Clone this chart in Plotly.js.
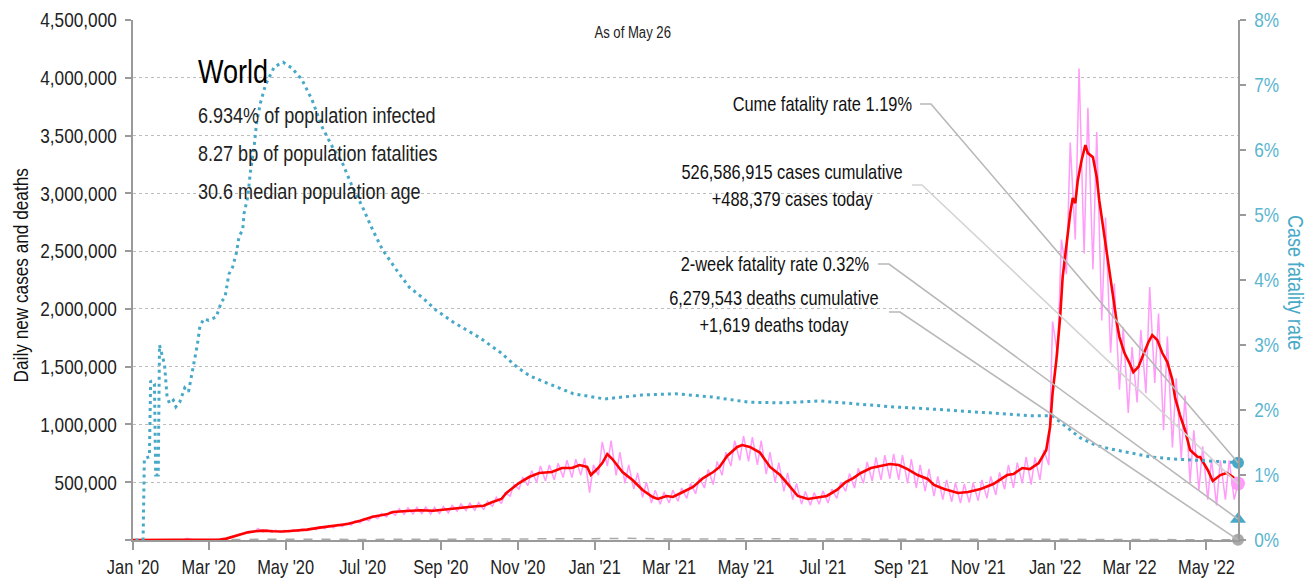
<!DOCTYPE html>
<html><head><meta charset="utf-8">
<script src="https://cdn.plot.ly/plotly-3.0.1.min.js"></script>
<style>html,body{margin:0;padding:0;background:#fff}#chart{width:1313px;height:580px}</style>
</head><body><div id="chart"></div>
<script>
// ---------- DATA ----------
const redDates = ['2020-01-01','2020-01-22','2020-02-05','2020-02-20','2020-03-01','2020-03-10','2020-03-15','2020-03-20','2020-03-26','2020-04-01','2020-04-07','2020-04-13','2020-04-21','2020-04-29','2020-05-07','2020-05-18','2020-05-28','2020-06-08','2020-06-19','2020-06-29','2020-07-09','2020-07-20','2020-07-25','2020-08-05','2020-08-16','2020-08-26','2020-09-06','2020-09-16','2020-09-27','2020-10-05','2020-10-12','2020-10-19','2020-10-23','2020-11-02','2020-11-10','2020-11-18','2020-11-28','2020-12-06','2020-12-14','2020-12-20','2020-12-26','2020-12-29','2021-01-03','2021-01-07','2021-01-11','2021-01-15','2021-01-23','2021-01-31','2021-02-08','2021-02-16','2021-02-20','2021-02-27','2021-03-04','2021-03-12','2021-03-20','2021-03-28','2021-04-05','2021-04-10','2021-04-16','2021-04-24','2021-04-28','2021-05-04','2021-05-12','2021-05-20','2021-05-28','2021-06-05','2021-06-11','2021-06-19','2021-06-27','2021-07-04','2021-07-12','2021-07-19','2021-07-25','2021-07-31','2021-08-08','2021-08-15','2021-08-23','2021-08-30','2021-09-06','2021-09-14','2021-09-22','2021-09-27','2021-10-05','2021-10-16','2021-10-24','2021-11-03','2021-11-13','2021-11-24','2021-11-29','2021-12-06','2021-12-12','2021-12-19','2021-12-25','2021-12-28','2021-12-30','2022-01-02','2022-01-05','2022-01-07','2022-01-10','2022-01-13','2022-01-15','2022-01-17','2022-01-19','2022-01-22','2022-01-25','2022-01-27','2022-01-31','2022-02-03','2022-02-05','2022-02-08','2022-02-11','2022-02-13','2022-02-16','2022-02-19','2022-02-21','2022-02-25','2022-03-01','2022-03-04','2022-03-08','2022-03-12','2022-03-16','2022-03-19','2022-03-23','2022-03-27','2022-03-31','2022-04-04','2022-04-06','2022-04-10','2022-04-14','2022-04-18','2022-04-24','2022-04-26','2022-05-02','2022-05-06','2022-05-12','2022-05-17','2022-05-22','2022-05-26'];
const redVals = [0,500,3000,2000,1500,4000,12000,28000,52000,66000,75000,81000,76000,74000,80000,90000,107000,121000,138000,167000,202000,222000,242000,251000,258000,253000,266000,283000,290000,296000,329000,355000,407000,493000,545000,580000,588000,623000,623000,649000,632000,562000,614000,666000,744000,701000,588000,519000,433000,372000,355000,381000,372000,415000,459000,536000,588000,632000,727000,805000,822000,805000,757000,632000,562000,459000,381000,355000,372000,381000,433000,502000,536000,580000,623000,640000,657000,649000,614000,562000,528000,476000,441000,407000,415000,441000,484000,562000,571000,623000,614000,666000,779000,978000,1272000,1557000,1929000,2275000,2569000,2829000,2959000,2915000,3114000,3287000,3417000,3348000,3313000,3140000,2941000,2708000,2483000,2310000,2076000,1877000,1756000,1618000,1531000,1453000,1497000,1600000,1713000,1773000,1730000,1618000,1540000,1384000,1237000,1081000,952000,779000,718000,718000,606000,510000,562000,580000,545000,502000];

// daily cases: weekly low (Monday) and high (Thursday), weeks starting 2020-01-20
const pinkFirstMonday = '2020-01-20';
const pinkLow = [100,1500,3000,2500,1500,900,1800,3500,13000,38000,57000,68000,70000,68000,66000,70000,75000,80000,90000,98000,106000,115000,128000,148000,165000,185000,200000,215000,222000,225000,228000,225000,230000,235000,250000,255000,258000,262000,290000,315000,380000,440000,470000,500000,510000,520000,540000,540000,560000,410000,
560000,640000,560000,490000,440000,370000,320000,310000,320000,335000,360000,400000,450000,480000,560000,640000,690000,680000,650000,570000,500000,420000,350000,310000,300000,310000,320000,360000,420000,450000,490000,510000,520000,530000,520000,490000,450000,420000,380000,350000,330000,320000,325000,340000,360000,390000,440000,450000,490000,480000,520000,650000,
1600000,2300000,2600000,2480000,2340000,1900000,1620000,1300000,1100000,1190000,1270000,1360000,950000,800000,700000,500000,430000,350000,300000,350000,350000];
const pinkHigh = [700,2800,3800,15000,1000,1500,2500,6500,24000,52000,74000,100000,88000,85000,84000,88000,94000,102000,116000,126000,136000,148000,165000,185000,210000,230000,245000,270000,278000,282000,285000,282000,290000,300000,312000,318000,325000,335000,370000,405000,480000,545000,600000,640000,650000,665000,690000,700000,710000,650000,
850000,860000,760000,650000,580000,500000,430000,415000,430000,450000,490000,540000,610000,680000,760000,860000,900000,890000,860000,760000,670000,580000,490000,420000,410000,425000,440000,500000,575000,620000,675000,715000,735000,745000,735000,700000,650000,615000,550000,520000,495000,485000,495000,520000,550000,585000,650000,670000,720000,715000,780000,1890000,
2600000,3440000,4080000,3740000,3530000,2790000,2220000,1840000,1670000,1820000,2190000,1960000,1760000,1400000,1250000,950000,810000,700000,690000,690000,488379];

// case fatality rate (%), right axis
const cfrDates = ['2020-01-03','2020-01-09','2020-01-10','2020-01-14','2020-01-15','2020-01-18','2020-01-19','2020-01-21','2020-01-22','2020-01-24','2020-01-26','2020-01-28','2020-01-30','2020-02-02','2020-02-04','2020-02-07','2020-02-09','2020-02-11','2020-02-14','2020-02-15','2020-02-16','2020-02-19','2020-02-20','2020-02-21','2020-02-23','2020-02-26','2020-03-01','2020-03-07','2020-03-11','2020-03-14','2020-03-17','2020-03-20','2020-03-23','2020-03-25','2020-03-28','2020-03-29','2020-04-01','2020-04-03','2020-04-06','2020-04-08','2020-04-11','2020-04-15','2020-04-22','2020-04-29','2020-05-06','2020-05-14','2020-05-22','2020-05-30','2020-06-07','2020-06-15','2020-06-23','2020-07-01','2020-07-09','2020-07-17','2020-07-28','2020-08-07','2020-08-18','2020-08-28','2020-09-11','2020-09-21','2020-10-02','2020-10-18','2020-11-01','2020-11-11','2020-11-22','2020-12-15','2021-01-09','2021-02-07','2021-03-06','2021-04-04','2021-05-03','2021-05-31','2021-06-28','2021-07-27','2021-08-24','2021-09-21','2021-10-19','2021-11-17','2021-12-15','2021-12-30','2022-01-05','2022-01-13','2022-01-21','2022-02-02','2022-02-14','2022-03-02','2022-03-17','2022-04-02','2022-04-26','2022-05-26'];
const cfrVals = [0,0,1.25,1.28,2.45,2.4,1.0,1.0,3.0,2.86,2.7,2.2,2.1,2.15,2.05,2.12,2.23,2.34,2.28,2.38,2.51,2.75,2.86,3.0,3.28,3.4,3.38,3.43,3.66,3.74,4.09,4.2,4.42,4.66,4.78,5.02,5.28,5.65,6.05,6.42,6.72,7.0,7.28,7.35,7.26,7.08,6.77,6.35,6.05,5.8,5.43,5.12,4.77,4.46,4.15,3.89,3.72,3.54,3.35,3.23,3.11,2.89,2.65,2.52,2.43,2.25,2.17,2.23,2.25,2.2,2.12,2.11,2.14,2.09,2.05,2.02,1.98,1.95,1.91,1.91,1.82,1.69,1.57,1.46,1.4,1.34,1.28,1.25,1.22,1.19];

// daily deaths (near zero on the left axis)
const deathDates = ['2020-01-22','2020-03-01','2020-03-20','2020-04-01','2020-04-15','2020-05-01','2020-06-01','2020-07-01','2020-08-01','2020-09-01','2020-10-01','2020-11-01','2020-12-01','2021-01-01','2021-01-25','2021-03-01','2021-04-01','2021-05-01','2021-06-01','2021-07-01','2021-08-01','2021-09-01','2021-10-01','2021-11-01','2021-12-01','2022-01-01','2022-02-05','2022-03-01','2022-04-01','2022-05-01','2022-05-26'];
const deathVals = [20,70,1500,5000,7500,5800,4500,5000,5800,5500,5400,7500,10500,11500,14500,9000,10500,13500,10500,7800,9000,9800,7600,6900,7000,6300,10500,7500,4500,2800,1619];

const lastDate = '2022-05-26';
const casesToday = 488379, deathsToday = 1619, cumeCfr = 1.19, twoWeekCfr = 0.32;
const yTickVals = [0,500000,1000000,1500000,2000000,2500000,3000000,3500000,4000000,4500000];
const yTickText = ['','500,000','1,000,000','1,500,000','2,000,000','2,500,000','3,000,000','3,500,000','4,000,000','4,500,000'];
const y2Max = 8, yMax = 4500000;

// ---------- build ----------
function addDays(iso, n){const d=new Date(iso+'T00:00:00Z');d.setUTCDate(d.getUTCDate()+n);return d.toISOString().slice(0,10);}
const pinkX=[], pinkY=[];
pinkLow.forEach((v,i)=>{pinkX.push(addDays(pinkFirstMonday,7*i));pinkY.push(v);pinkX.push(addDays(pinkFirstMonday,7*i+3));pinkY.push(pinkHigh[i]);});

const FONT = "'Liberation Sans Narrow','Liberation Sans',Arial,sans-serif";
const NARROW = 0.82; // horizontal condensing of all text
const TEAL = '#47a9c7', PINK = '#ff9bf9', RED = '#ff0000', GRAY='#9a9a9a';

const traces = [
 {x:deathDates,y:deathVals,type:'scatter',mode:'lines',line:{color:'#aaaaaa',width:1.5,dash:'dash'},hoverinfo:'skip'},
 {x:pinkX,y:pinkY,type:'scatter',mode:'lines',line:{color:PINK,width:1.5},hoverinfo:'skip'},
 {x:redDates,y:redVals,type:'scatter',mode:'lines',line:{color:RED,width:2.6},hoverinfo:'skip'},
 {x:cfrDates,y:cfrVals,yaxis:'y2',type:'scatter',mode:'lines',line:{color:TEAL,width:3,dash:'3px,4px'},hoverinfo:'skip'},
 {x:[lastDate],y:[casesToday],type:'scatter',mode:'markers',marker:{color:PINK,size:14},cliponaxis:false},
 {x:[lastDate],y:[deathsToday],type:'scatter',mode:'markers',marker:{color:'#aaaaaa',size:12},cliponaxis:false},
 {x:[lastDate],y:[cumeCfr],yaxis:'y2',type:'scatter',mode:'markers',marker:{color:TEAL,size:12},cliponaxis:false},
 {x:[lastDate],y:[twoWeekCfr],yaxis:'y2',type:'scatter',mode:'markers',marker:{color:TEAL,size:14,symbol:'triangle-up'},cliponaxis:false}
];

const PL=133, PT=20, PW=1105, PH=520;
const px = x => (x-PL)/PW, py = y => (PT+PH-y)/PH;

function txt(text,x,y,size,anchor,color){const al={left:'left',right:'right',center:'center'}[anchor];
 return {text,x:px(x),y:py(y),xref:'paper',yref:'paper',xanchor:anchor,align:al,yanchor:'middle',showarrow:false,font:{family:FONT,size,color:color||'#111'}};}
const annotations = [
 txt('As of May 26',632,32,16,'center','#222'),
 txt('World',196,72,33,'left','#000'),
 txt('6.934% of population infected',196,115,22,'left','#222'),
 txt('8.27 bp of population fatalities',196,153,22,'left','#222'),
 txt('30.6 median population age',196,191,22,'left','#222'),
 txt('Cume fatality rate 1.19%',914,104,20,'right','#111'),
 txt('526,586,915 cases cumulative',792,172,20,'center','#111'),
 txt('+488,379 cases today',792,199,20,'center','#111'),
 txt('2-week fatality rate 0.32%',871,264,20,'right','#111'),
 txt('6,279,543 deaths cumulative',774,298,20,'center','#111'),
 txt('+1,619 deaths today',774,325,20,'center','#111'),
 {text:'Daily new cases and deaths',x:px(20),y:py(275),xref:'paper',yref:'paper',xanchor:'center',yanchor:'middle',textangle:-90,showarrow:false,font:{family:FONT,size:21,color:'#111'}},
 {text:'Case fatality rate',x:px(1296),y:py(282),xref:'paper',yref:'paper',xanchor:'center',yanchor:'middle',textangle:90,showarrow:false,font:{family:FONT,size:22,color:TEAL}}
];

function leader(x0,y0,x1,endY,color){
 return {type:'path',xref:'paper',yref:'paper',layer:'above',
   path:`M ${px(x0)},${py(y0)} L ${px(x1)},${py(y0)} L 1,${endY}`,line:{color,width:1.6}};
}
const shapes = [
 leader(920,104,931,cumeCfr/y2Max,'#b8b8b8'),
 leader(912,185,922,casesToday/yMax,'#d4d4d4'),
 leader(878,264,889,twoWeekCfr/y2Max,'#b8b8b8'),
 leader(889,312,900,deathsToday/yMax,'#b8b8b8')
];

const layout = {
 width:1313,height:580,margin:{l:PL,r:75,t:PT,b:40},
 paper_bgcolor:'#fff',plot_bgcolor:'#fff',showlegend:false,
 xaxis:{type:'date',range:['2020-01-01',lastDate],tick0:'2020-01-01',dtick:'M2',tickformat:"%b '%y",
   showgrid:false,zeroline:false,showline:true,linecolor:GRAY,linewidth:2,ticks:'outside',ticklen:8,tickwidth:2,tickcolor:GRAY,
   tickfont:{family:FONT,size:20,color:'#222'}},
 yaxis:{range:[0,yMax],tickvals:yTickVals,ticktext:yTickText,showgrid:true,gridcolor:'#bdbdbd',griddash:'dot',gridwidth:1,
   zeroline:false,showline:true,linecolor:GRAY,linewidth:2,ticks:'outside',ticklen:6,tickwidth:2,tickcolor:GRAY,ticklabelstandoff:4,
   tickfont:{family:FONT,size:21,color:'#222'}},
 yaxis2:{overlaying:'y',side:'right',range:[0,y2Max],dtick:1,ticksuffix:'%',showgrid:false,zeroline:false,
   showline:true,linecolor:GRAY,linewidth:2,ticks:'outside',ticklen:6,tickwidth:2,tickcolor:GRAY,ticklabelstandoff:4,
   tickfont:{family:FONT,size:21,color:'#5ab5cf'}},
 annotations, shapes
};
Plotly.newPlot('chart',traces,layout,{staticPlot:true,displayModeBar:false}).then(gd=>{
 // condense all text horizontally about its anchor point (narrow typeface look)
 gd.querySelectorAll('svg text').forEach(t=>{
   const x = parseFloat(t.getAttribute('x')||'0');
   const tr = t.getAttribute('transform')||'';
   t.setAttribute('transform', `${tr} translate(${x},0) scale(${NARROW},1) translate(${-x},0)`);
 });
});
</script>
</body></html>
